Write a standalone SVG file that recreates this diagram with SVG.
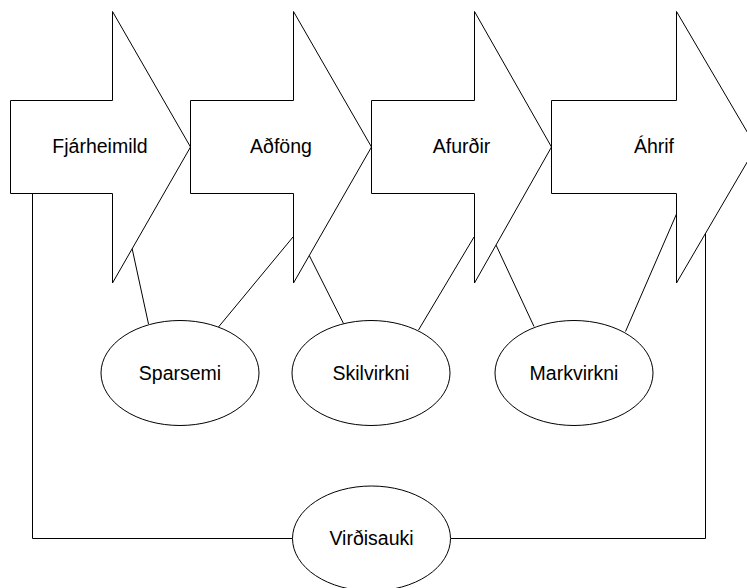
<svg xmlns="http://www.w3.org/2000/svg" width="747" height="588" viewBox="0 0 747 588">
<style>
.shape{fill:#fff;stroke:#000;stroke-width:1}
.lbl{font-family:"Liberation Sans",Arial,sans-serif;font-size:19.5px;fill:#000;text-anchor:middle}
.conn{fill:none;stroke:#000;stroke-width:1}
</style>
<rect width="747" height="588" fill="#fff"/>
<g id="connectors">
<line class="conn" x1="132" y1="248" x2="148.5" y2="324"/>
<line class="conn" x1="293" y1="237" x2="218.5" y2="327"/>
<line class="conn" x1="309" y1="255" x2="343.5" y2="323.5"/>
<line class="conn" x1="474" y1="237" x2="418.5" y2="330"/>
<line class="conn" x1="496" y1="245" x2="534" y2="326.5"/>
<line class="conn" x1="676.5" y1="214" x2="625.5" y2="331.5"/>
<polyline class="conn" points="32.5,193.5 32.5,538.5 292.5,538.5"/>
<polyline class="conn" points="705.5,232.5 705.5,538.5 451,538.5"/>
</g>
<g id="fjarheimild">
<polygon class="shape" points="10.5,100.5 112.5,100.5 112.5,11.5 190.5,147 112.5,283 112.5,193.5 10.5,193.5"/>
<text class="lbl" x="100" y="153">Fjárheimild</text>
</g>
<g id="adfong">
<polygon class="shape" points="190.5,100.5 293.5,100.5 293.5,11.5 371.5,147 293.5,283 293.5,193.5 190.5,193.5"/>
<text class="lbl" x="281" y="153">Aðföng</text>
</g>
<g id="afurdir">
<polygon class="shape" points="371.5,100.5 474.5,100.5 474.5,11.5 551.5,147 474.5,283 474.5,193.5 371.5,193.5"/>
<text class="lbl" x="461.5" y="153">Afurðir</text>
</g>
<g id="ahrif">
<polygon class="shape" points="551.5,100.5 676.5,100.5 676.5,11.5 756,147 676.5,283 676.5,193.5 551.5,193.5"/>
<text class="lbl" x="654" y="153">Áhrif</text>
</g>
<g id="sparsemi">
<ellipse class="shape" cx="180" cy="373" rx="79" ry="52.5"/>
<text class="lbl" x="180" y="379.5">Sparsemi</text>
</g>
<g id="skilvirkni">
<ellipse class="shape" cx="371" cy="373" rx="79" ry="52.5"/>
<text class="lbl" x="371" y="379.5">Skilvirkni</text>
</g>
<g id="markvirkni">
<ellipse class="shape" cx="574" cy="373" rx="79" ry="52.5"/>
<text class="lbl" x="574" y="379.5">Markvirkni</text>
</g>
<g id="virdisauki">
<ellipse class="shape" cx="371.5" cy="538.5" rx="79" ry="52.5"/>
<text class="lbl" x="371.5" y="545">Virðisauki</text>
</g>
</svg>
